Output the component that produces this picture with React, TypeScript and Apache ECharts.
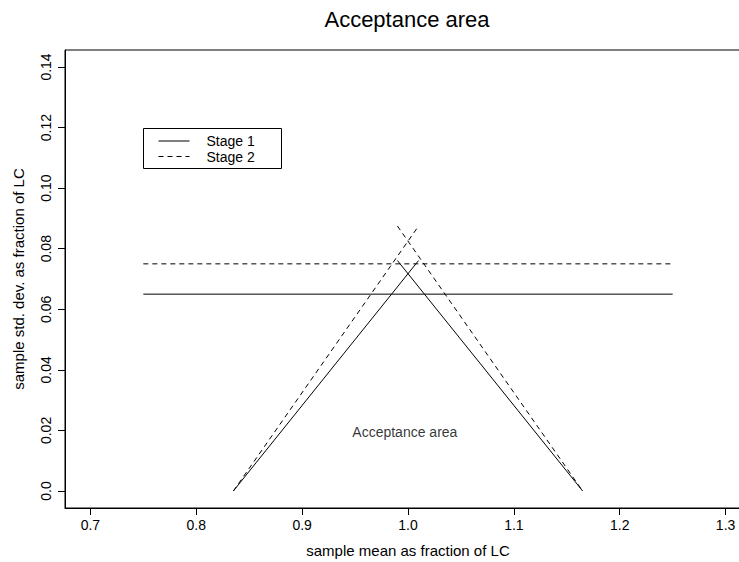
import React, { useEffect, useRef } from "react";
import * as echarts from "echarts";

// Axis ticks and their printed labels
const xTicks = [0.7, 0.8, 0.9, 1.0, 1.1, 1.2, 1.3];
const xTickLabels = ["0.7", "0.8", "0.9", "1.0", "1.1", "1.2", "1.3"];
const yTicks = [0, 0.02, 0.04, 0.06, 0.08, 0.1, 0.12, 0.14];
const yTickLabels = ["0.0", "0.02", "0.04", "0.06", "0.08", "0.10", "0.12", "0.14"];

// Axis limits (data range padded by 4%, as in base graphics)
const xLimits = [0.676, 1.324];
const yLimits = [-0.0056, 0.1456];

// Stage 1 (n = 10): s.d. limit and the two mean-dependent boundaries
const stage1Limit = [[0.75, 0.065], [1.25, 0.065]];
const stage1Left = [[0.835, 0], [1.01, 0.0761]];
const stage1Right = [[0.99, 0.0761], [1.165, 0]];

// Stage 2 (n = 30)
const stage2Limit = [[0.75, 0.075], [1.25, 0.075]];
const stage2Left = [[0.835, 0], [1.01, 0.0875]];
const stage2Right = [[0.99, 0.0875], [1.165, 0]];

const areaLabel = [[0.997, 0.0195]];
const legendItems = ["Stage 1", "Stage 2"];

const FONT = "'Liberation Sans', Arial, Helvetica, sans-serif";

const pick = (ticks: number[], labels: string[]) => (v: number) => {
  const i = ticks.findIndex((t) => Math.abs(t - v) < 1e-9);
  return i >= 0 ? labels[i] : "";
};

const lineSeries = (name: string, data: number[][], dashed: boolean) => ({
  name,
  type: "line",
  data,
  symbol: "none",
  silent: true,
  lineStyle: { color: "#000", width: 1, type: dashed ? [5, 4] : "solid" },
});

export default function App() {
  const ref = useRef<HTMLDivElement>(null);

  useEffect(() => {
    if (!ref.current) return;
    const chart = echarts.init(ref.current, undefined, { renderer: "svg" });
    const textStyle = { fontFamily: FONT, color: "#000" };

    chart.setOption({
      animation: false,
      backgroundColor: "#fff",
      textStyle: { fontFamily: FONT },
      title: {
        text: "Acceptance area",
        left: 402,
        textAlign: "center",
        top: 3,
        textStyle: { ...textStyle, fontSize: 22, fontWeight: "normal" },
      },
      grid: {
        left: 65,
        top: 50,
        width: 686,
        height: 458,
        outerBoundsMode: "none",
        containLabel: false,
        show: true,
        borderColor: "#000",
        borderWidth: 1,
        backgroundColor: "transparent",
      },
      xAxis: {
        type: "value",
        min: xLimits[0],
        max: xLimits[1],
        name: "sample mean as fraction of LC",
        nameLocation: "middle",
        nameGap: 35,
        nameTextStyle: { ...textStyle, fontSize: 15 },
        axisLine: { show: true, onZero: false, lineStyle: { color: "#000", width: 1 } },
        axisTick: {
          show: true,
          customValues: xTicks,
          length: 7,
          lineStyle: { color: "#000", width: 1 },
        },
        axisLabel: {
          customValues: xTicks,
          formatter: pick(xTicks, xTickLabels),
          margin: 10,
          ...textStyle,
          fontSize: 14,
        },
        splitLine: { show: false },
      },
      yAxis: {
        type: "value",
        min: yLimits[0],
        max: yLimits[1],
        name: "sample std. dev. as fraction of LC",
        nameLocation: "middle",
        nameGap: 39,
        nameTextStyle: { ...textStyle, fontSize: 15 },
        axisLine: { show: true, onZero: false, lineStyle: { color: "#000", width: 1 } },
        axisTick: {
          show: true,
          customValues: yTicks,
          length: 7,
          lineStyle: { color: "#000", width: 1 },
        },
        axisLabel: {
          customValues: yTicks,
          formatter: pick(yTicks, yTickLabels),
          rotate: 90,
          margin: 12,
          ...textStyle,
          fontSize: 14,
        },
        splitLine: { show: false },
      },
      series: [
        lineSeries("Stage 1 limit", stage1Limit, false),
        lineSeries("Stage 1 lower", stage1Left, false),
        lineSeries("Stage 1 upper", stage1Right, false),
        lineSeries("Stage 2 limit", stage2Limit, true),
        lineSeries("Stage 2 lower", stage2Left, true),
        lineSeries("Stage 2 upper", stage2Right, true),
        {
          type: "scatter",
          data: areaLabel,
          symbolSize: 0,
          silent: true,
          label: {
            show: true,
            position: "inside",
            formatter: "Acceptance area",
            ...textStyle,
            fontSize: 14,
          },
        },
      ],
      graphic: [
        {
          type: "group",
          left: 143,
          top: 128,
          children: [
            {
              type: "rect",
              shape: { x: 0, y: 0, width: 138, height: 40 },
              style: { fill: "#fff", stroke: "#000", lineWidth: 1 },
            },
            {
              type: "line",
              shape: { x1: 15, y1: 12.5, x2: 46, y2: 12.5 },
              style: { stroke: "#000", lineWidth: 1 },
            },
            {
              type: "line",
              shape: { x1: 15, y1: 28, x2: 46, y2: 28 },
              style: { stroke: "#000", lineWidth: 1, lineDash: [5, 4] },
            },
            {
              type: "text",
              x: 63,
              y: 12.5,
              style: {
                text: legendItems[0],
                fontFamily: FONT,
                fontSize: 14,
                fill: "#000",
                verticalAlign: "middle",
              },
            },
            {
              type: "text",
              x: 63,
              y: 28,
              style: {
                text: legendItems[1],
                fontFamily: FONT,
                fontSize: 14,
                fill: "#000",
                verticalAlign: "middle",
              },
            },
          ],
        },
      ],
    });

    return () => chart.dispose();
  }, []);

  // The plot frame runs past the right edge of the page, so the chart
  // surface is wider than its clipping wrapper.
  return (
    <div
      style={{
        position: "absolute",
        left: 0,
        top: 0,
        width: 739,
        height: 562,
        overflow: "hidden",
        background: "#fff",
      }}
    >
      <div ref={ref} style={{ width: 760, height: 562 }} />
    </div>
  );
}
